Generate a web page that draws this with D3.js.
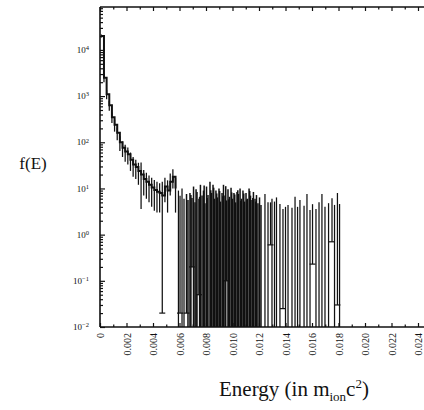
<!DOCTYPE html>
<html><head><meta charset="utf-8">
<script src="https://cdn.jsdelivr.net/npm/d3@7"></script>
<style>body{margin:0;background:#fff;} svg{display:block;}</style>
</head><body>
<svg id="c" width="424" height="410"></svg>
<script>
// ---- data ----
const energy = [0.0001,0.0003,0.0005,0.0007,0.0009,0.0011,0.0013,0.0015,0.0017,0.0019,
  0.0021,0.0023,0.0025,0.0027,0.0029,0.0031,0.0033,0.0035,0.0037,0.0039,
  0.0041,0.0043,0.0045,0.0047,0.0049,0.0051,0.0053,0.0055,0.0057,
  0.00592,0.00604,0.00619,0.00634,0.00653,0.00664,0.00679,0.00694,0.00706,0.00717,
  0.00732,0.00747,0.00758,0.00770,0.00781,0.00792,0.00804,0.00815,0.00830,0.00842,
  0.00853,0.00864,0.00875,0.00887,0.00898,0.00909,0.00921,0.00932,0.00943,0.00955,
  0.00966,0.00977,0.00989,0.01000,0.01011,0.01023,0.01034,0.01045,0.01057,0.01068,
  0.01079,0.01091,0.01102,0.01113,0.01125,0.01136,0.01147,0.01158,0.01170,0.01181,
  0.01192,0.01204,0.01215,0.01245,0.01268,0.01287,0.01298,0.01317,0.01332,0.01358,
  0.01381,0.01400,0.01419,0.01449,0.01472,0.01491,0.01509,0.01540,0.01562,0.01585,
  0.01604,0.01630,0.01653,0.01675,0.01698,0.01725,0.01751,0.01770,0.01792,0.01808,
  0.00686,0.00725,0.00752,0.00786,0.00809,0.00836,0.00858,0.00881,0.00903,0.00927,
  0.00949,0.00971,0.00994,0.01017,0.01040,0.01062,0.01085,0.01108,0.01130,0.01153,0.01175];
const fE = [20000,2500,1100,630,350,240,160,100,76,63,
  55,42,33,29,24,20,16,14,12,10.5,
  9.3,8.5,8,7,11,9,14,18,10,
  4.5,3.5,5,3,3.8,2.8,4,3.2,5.5,2.5,
  4.2,3.0,6,3.5,4.5,2.4,5.5,3.6,7,4,
  6,3,4.5,3.2,5,2.6,4,6,3.5,2.8,
  4.8,3.3,5.2,3,4,2.5,4.2,3.8,5,3,
  4.5,2.6,4,3,5,3.5,2.8,4.2,3,3.6,
  2.4,3.2,2.2,3.8,2.5,2.8,3,2.6,3.2,2.3,
  1.8,2,2.2,1.9,3.3,2,2.8,2.1,3.8,1.7,
  2.4,1.8,2.5,3.8,2,2.4,3.4,2.2,4,2.3,
  3.6,4.8,3.3,5.8,3.1,4.6,5.2,3.9,4.4,3.4,
  5.6,2.9,4.1,3.7,4.6,2.7,3.9,2.9,4.4,3.1,2.6];
const fErr = [1500,500,250,150,90,70,50,35,28,25,
  22,18,15,13,12,16.4,9,8,7,6.5,
  6,5.5,5,6.98,6,6,7,8,7,
  4.5,3.48,5,3,3.78,2.8,4,3.0,5.5,2.5,
  4.2,2.95,6,3.5,4.5,2.4,5.5,3.6,7,4,
  6,3,4.5,3.2,5,2.6,4,6,3.5,2.7,
  4.8,3.3,5.2,3,4,2.5,4.2,3.8,5,3,
  4.5,2.6,4,3,5,3.5,2.8,4.2,3,3.6,
  2.4,3.2,2.2,3.8,2.5,2.2,3,2.6,3.2,2.3,
  1.775,2,2.2,1.9,3.3,2,2.8,2.1,3.8,1.7,
  2.17,1.8,2.5,3.8,2,2.4,2.7,2.2,3.97,2.3,
  3.6,4.8,3.3,5.8,3.1,4.6,5.2,3.9,4.4,3.4,
  5.6,2.9,4.1,3.7,4.6,2.7,3.9,2.9,4.4,3.1,2.6];
const curveEnd = 0.0058;
const xTickValues = [0,0.002,0.004,0.006,0.008,0.010,0.012,0.014,0.016,0.018,0.020,0.022,0.024];
const xTickLabels = ["0","0.002","0.004","0.006","0.008","0.010","0.012","0.014","0.016","0.018","0.020","0.022","0.024"];
const xMinorValues = [0.001,0.003,0.005,0.007,0.009,0.011,0.013,0.015,0.017,0.019,0.021,0.023];
const yExponents = [-2,-1,0,1,2,3,4];

// ---- layout ----
const L = 100, T = 7, B = 327, R = 431.25;
const svg = d3.select("#c");
const x = d3.scaleLinear().domain([0, 0.025]).range([L, R]);
const y = d3.scaleLog().domain([0.01, 85000]).range([B, T]);
const ink = "#111";
const serif = "'Liberation Serif', 'Times New Roman', 'DejaVu Serif', serif";

svg.append("defs").append("clipPath").attr("id","pa")
  .append("rect").attr("x",L).attr("y",T).attr("width",R-L).attr("height",B-T);

const plot = svg.append("g").attr("clip-path","url(#pa)");

// error bars
energy.forEach((e,i)=>{
  const lo = fE[i]-fErr[i], hi = fE[i]+fErr[i];
  const ylo = lo > 0.01 ? y(lo) : B+2;
  const dense = e > 0.0065 && e < 0.0122;
  plot.append("line").attr("x1",x(e)).attr("x2",x(e))
    .attr("y1",ylo).attr("y2",y(hi)).attr("stroke",ink)
    .attr("stroke-width", dense ? 1.5 : 1.25);
  if (lo > 0.01 && (e > curveEnd || lo < 0.1)) {
    plot.append("line").attr("x1",x(e)-3).attr("x2",x(e)+3)
      .attr("y1",y(lo)).attr("y2",y(lo)).attr("stroke",ink).attr("stroke-width",1.2);
  }
});
// main curve
const curvePts = energy.map((e,i)=>[e,fE[i]]).filter(d=>d[0]<curveEnd);
plot.append("path").datum(curvePts)
  .attr("d", d3.line().x(d=>x(d[0])).y(d=>y(d[1])).curve(d3.curveStepAfter))
  .attr("fill","none").attr("stroke",ink).attr("stroke-width",2);

// axes
const ax = svg.append("g");
ax.append("line").attr("x1",L).attr("x2",L).attr("y1",T).attr("y2",B).attr("stroke",ink).attr("stroke-width",1.6);
ax.append("line").attr("x1",L).attr("x2",424).attr("y1",T).attr("y2",T).attr("stroke",ink).attr("stroke-width",1.6);
ax.append("line").attr("x1",L).attr("x2",424).attr("y1",B).attr("y2",B).attr("stroke",ink).attr("stroke-width",1.6);

function styleAxis(g){ g.select(".domain").remove(); g.selectAll(".tick line").attr("stroke",ink).attr("stroke-width",1.2); }

// bottom major with labels
const bx = svg.append("g").attr("transform",`translate(0,${B})`)
  .call(d3.axisBottom(x).tickValues(xTickValues).tickSize(-4).tickPadding(0)
    .tickFormat((d,i)=>xTickLabels[i]));
styleAxis(bx);
bx.selectAll(".tick text")
  .attr("transform","translate(0,6) rotate(-90)")
  .attr("x",0).attr("y",0).attr("dy","0.35em")
  .attr("text-anchor","end")
  .attr("font-family",serif).attr("font-size",10).attr("fill",ink);
svg.append("g").attr("transform",`translate(0,${B})`)
  .call(d3.axisBottom(x).tickValues(xMinorValues).tickSize(-2.5).tickFormat(""))
  .call(styleAxis);
// top
svg.append("g").attr("transform",`translate(0,${T})`)
  .call(d3.axisTop(x).tickValues(xTickValues).tickSize(-4).tickFormat("")).call(styleAxis);
svg.append("g").attr("transform",`translate(0,${T})`)
  .call(d3.axisTop(x).tickValues(xMinorValues).tickSize(-2.5).tickFormat("")).call(styleAxis);
// left
const decades = yExponents.map(p=>Math.pow(10,p));
const yMinor = [];
yExponents.concat([5]).forEach(p=>{ for(let k=2;k<=9;k++){ const v=k*Math.pow(10,p-1); if(v>=0.01 && v<=85000) yMinor.push(v);} });
svg.append("g").attr("transform",`translate(${L},0)`)
  .call(d3.axisLeft(y).tickValues(decades).tickSize(-5).tickFormat("")).call(styleAxis);
svg.append("g").attr("transform",`translate(${L},0)`)
  .call(d3.axisLeft(y).tickValues(yMinor).tickSize(-3).tickFormat("")).call(styleAxis);
// left labels
const yl = svg.append("g").attr("font-family",serif).attr("fill",ink);
yExponents.forEach(p=>{
  const t = yl.append("text").attr("x",89).attr("y",y(Math.pow(10,p))).attr("dy","0.35em")
    .attr("text-anchor","end").attr("font-size",9);
  t.append("tspan").text("10");
  t.append("tspan").attr("dy","-0.45em").attr("font-size",6.5).text(String(p).replace("-","\u2212"));
});

// axis titles
svg.append("text").attr("x",33).attr("y",169).attr("text-anchor","middle")
  .attr("font-family",serif).attr("font-size",17).attr("fill",ink).text("f(E)");
const xt = svg.append("text").attr("x",294).attr("y",396).attr("text-anchor","middle")
  .attr("font-family",serif).attr("font-size",21).attr("fill",ink);
xt.append("tspan").text("Energy (in m");
xt.append("tspan").attr("dy",5).attr("font-size",13).text("ion");
xt.append("tspan").attr("dy",-5).text("c");
xt.append("tspan").attr("dy",-8).attr("font-size",13).text("2");
xt.append("tspan").attr("dy",8).text(")");
</script>
</body></html>
